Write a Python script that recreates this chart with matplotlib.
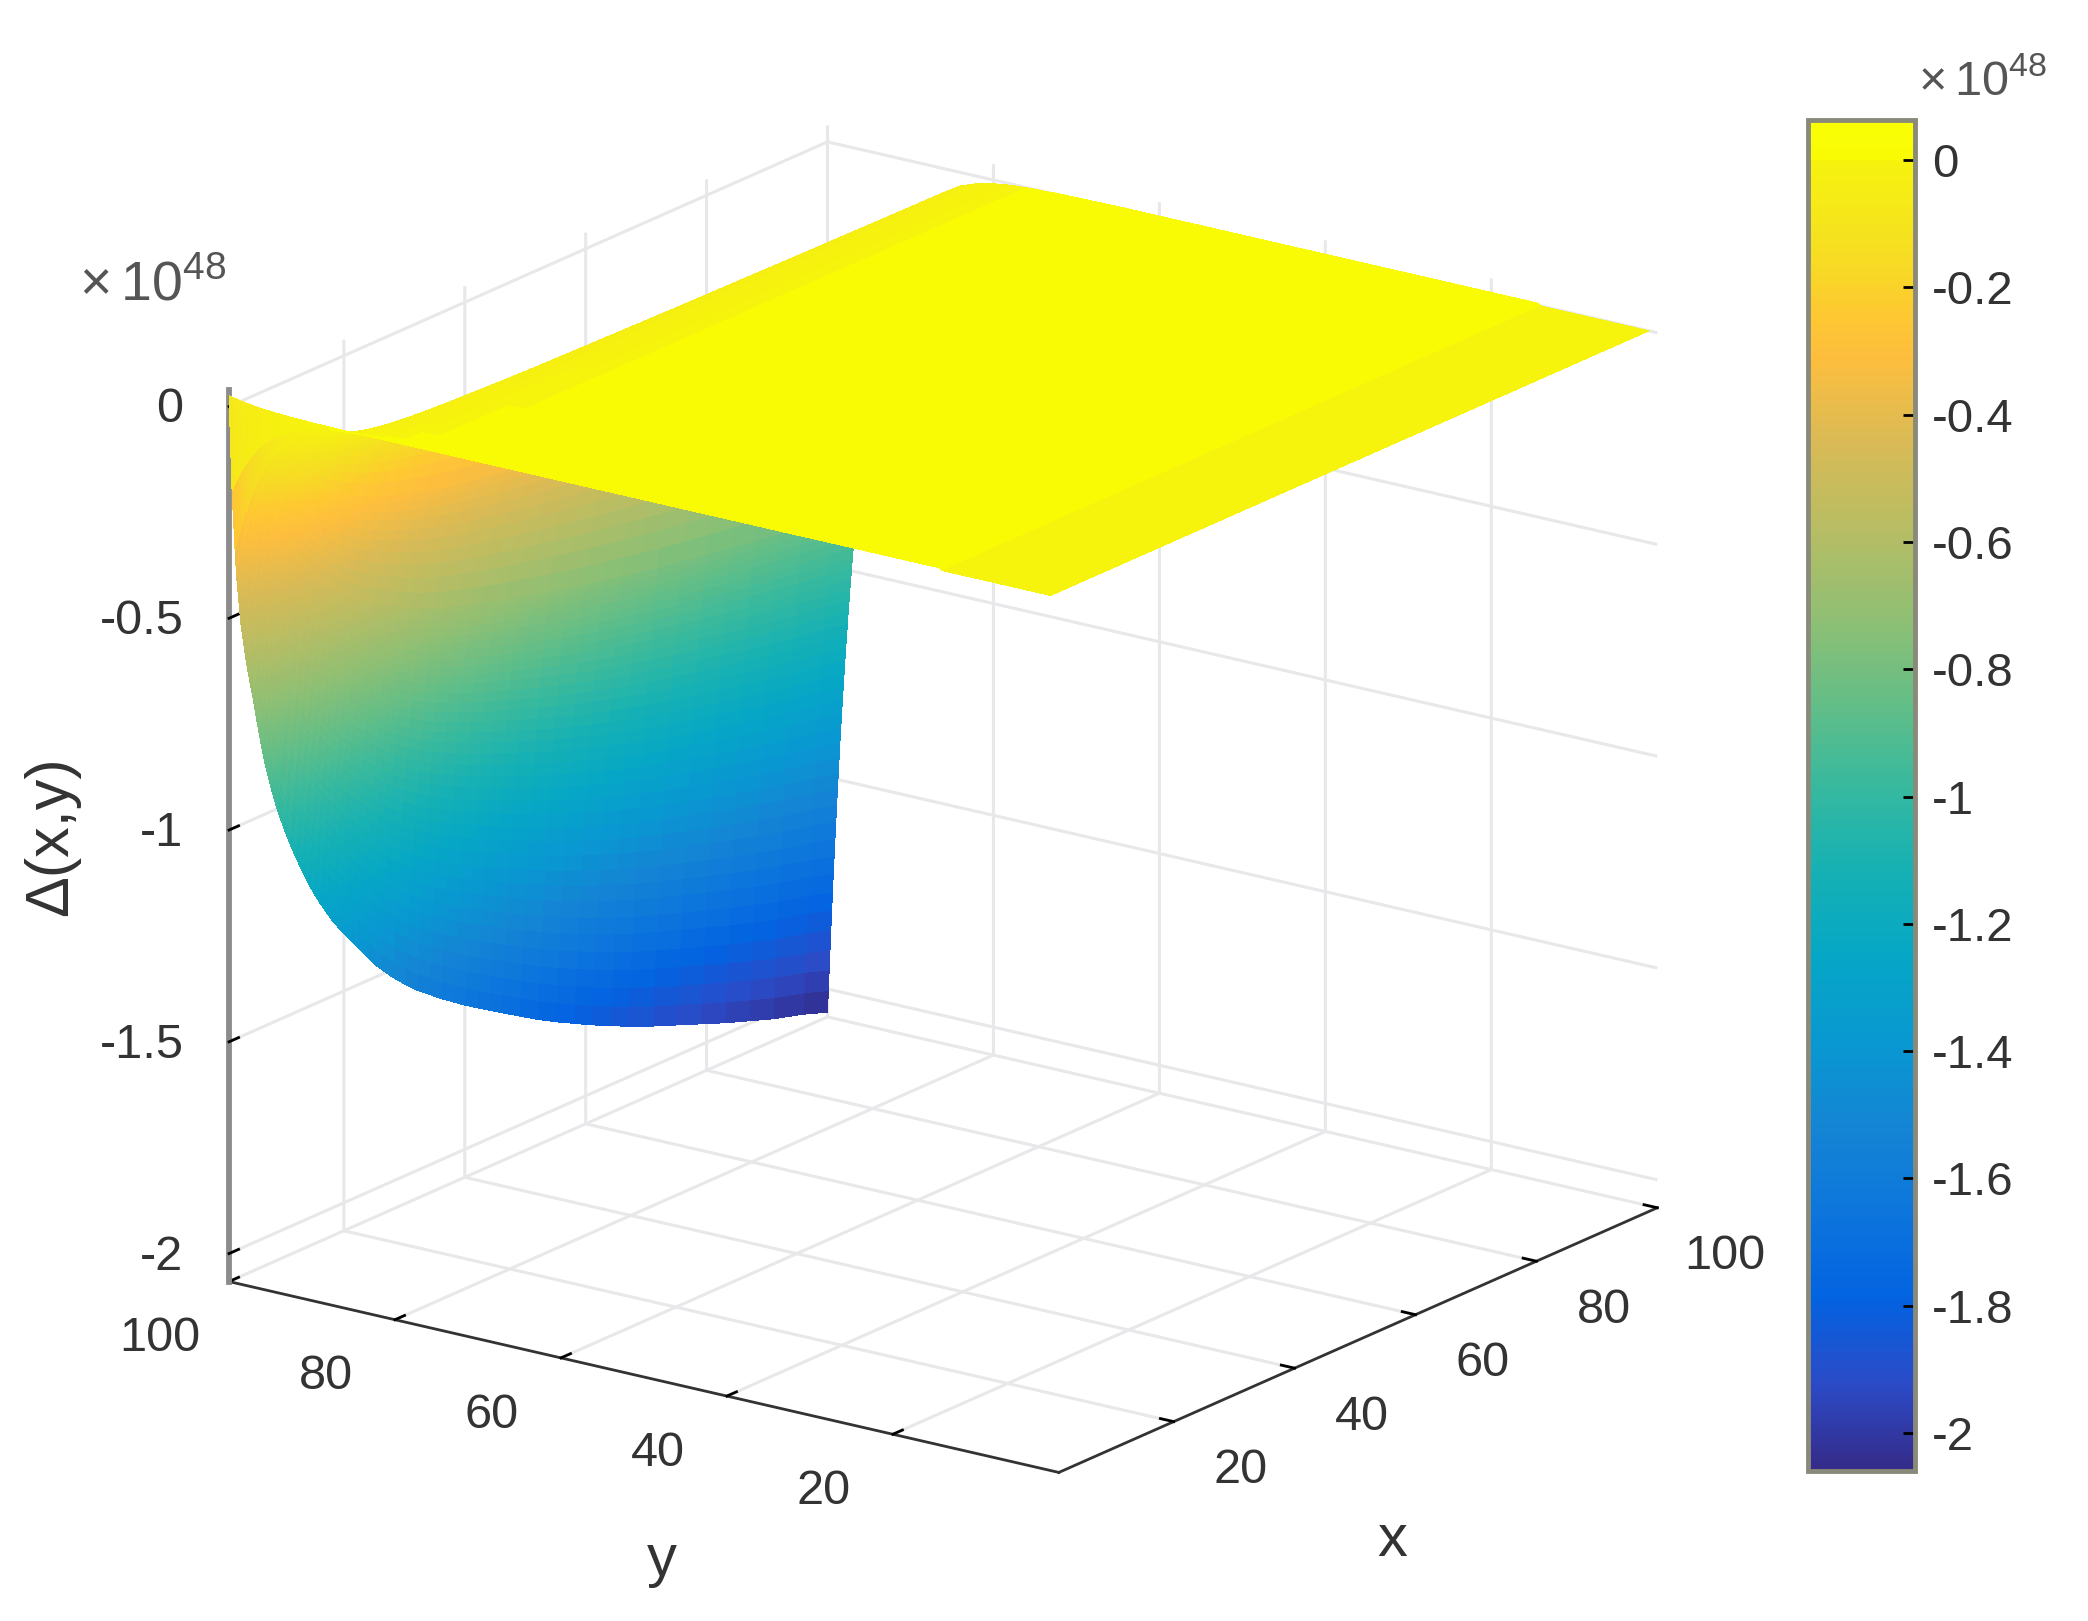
# surface of Delta(x,y) with a parula-like colour bar, values in units of 1e48
import matplotlib
matplotlib.use('Agg')
import matplotlib.pyplot as plt
from matplotlib.colors import LinearSegmentedColormap, Normalize
from matplotlib.cm import ScalarMappable
from mpl_toolkits.mplot3d import proj3d
import numpy as np

plt.rcParams['font.family'] = ['Liberation Sans', 'DejaVu Sans']
plt.rcParams['mathtext.fontset'] = 'custom'
plt.rcParams['mathtext.rm'] = 'Liberation Sans'

# edge of the surface read along y = 100, as share of the deepest value
x_vals = [1, 1.5, 2, 2.25, 2.5, 2.75, 3, 3.5, 4, 4.5, 5, 5.5, 6, 6.5, 7, 7.5, 8, 8.5, 9, 10, 11, 12, 13, 14, 15, 16,
          17, 18, 19, 20, 21, 22, 23, 24, 25, 26, 28, 30, 32, 34, 36, 38, 40, 42, 44, 46, 49, 52, 55, 58, 61, 64,
          67, 71, 75, 79, 83, 87, 91, 96, 100]
x_depth = [-0.01, 0.10, 0.17, 0.20, 0.22, 0.24, 0.26, 0.285, 0.31, 0.33, 0.35, 0.372, 0.393, 0.413, 0.431, 0.447,
           0.462, 0.476, 0.489, 0.512, 0.533, 0.552, 0.57, 0.587, 0.603, 0.617, 0.63, 0.643, 0.654, 0.665, 0.675,
           0.685, 0.695, 0.705, 0.715, 0.723, 0.739, 0.753, 0.766, 0.777, 0.788, 0.798, 0.808, 0.817, 0.826, 0.835,
           0.848, 0.861, 0.873, 0.884, 0.895, 0.905, 0.915, 0.927, 0.938, 0.949, 0.96, 0.97, 0.98, 0.99, 1.0]

# edge of the surface read along x = 100, as share of the deepest value
y_vals = [1, 7, 14, 14.5, 30, 50, 65, 72, 76, 78, 80, 82, 84, 86, 88, 90, 90.5, 91, 91.5, 92, 92.5, 93, 93.5, 94,
          94.25, 94.5, 94.75, 95, 95.25, 95.5, 95.75, 96, 96.25,
          96.5, 96.6, 96.7, 96.8, 96.9, 97, 97.1, 97.2, 97.3, 97.4, 97.5, 97.6, 97.7, 97.8, 97.9, 98, 98.1, 98.2,
          98.3, 98.4, 98.5, 98.6, 98.7, 98.8, 98.9, 99, 99.1, 99.2, 99.3, 99.4, 99.5, 99.6, 99.7, 99.8, 99.9, 100]
y_depth = [0, 0, 0, 0, 0, 0, 0, 0.001, 0.0025, 0.004, 0.0067, 0.011, 0.018, 0.03, 0.05, 0.082, 0.093, 0.105, 0.119,
           0.135, 0.153, 0.174, 0.197, 0.223, 0.237, 0.253, 0.269, 0.287, 0.305, 0.325, 0.346, 0.368, 0.392,
           0.417, 0.427, 0.438, 0.449, 0.461, 0.472, 0.484, 0.497, 0.509,
           0.522, 0.535, 0.549, 0.563, 0.577, 0.592, 0.607, 0.622, 0.638, 0.654, 0.670, 0.687, 0.705, 0.723, 0.741,
           0.760, 0.779, 0.799, 0.819, 0.839, 0.861, 0.882, 0.905, 0.928, 0.951, 0.975, 1.0]
# flat part of the sheet: the front strip sits one colour step lower
y_level = [0] * 3 + [0.005] * (len(y_vals) - 3)
z_deepest = -2.06

x_ticks = [20, 40, 60, 80, 100]
y_ticks = [20, 40, 60, 80, 100]
z_ticks = [-2, -1.5, -1, -0.5, 0]
z_labels = ['-2', '-1.5', '-1', '-0.5', '0']
cbar_ticks = [-2, -1.8, -1.6, -1.4, -1.2, -1, -0.8, -0.6, -0.4, -0.2, 0]
cbar_labels = ['-2', '-1.8', '-1.6', '-1.4', '-1.2', '-1', '-0.8', '-0.6', '-0.4', '-0.2', '0']

# parula stops
parula_pos = [0, 0.063, 0.127, 0.19, 0.254, 0.317, 0.381, 0.444, 0.508, 0.571, 0.635, 0.698, 0.762, 0.825,
              0.857, 0.889, 0.921, 0.95, 0.9703, 0.9727, 1]
parula_rgb = [(0.2081, 0.1663, 0.5292), (0.1707, 0.2919, 0.7792), (0.0117, 0.3875, 0.8820),
              (0.0498, 0.4586, 0.8641), (0.0793, 0.5200, 0.8312), (0.0343, 0.5966, 0.8199),
              (0.0228, 0.6535, 0.7768), (0.0843, 0.6928, 0.7062), (0.2178, 0.7250, 0.6193),
              (0.3953, 0.7459, 0.5244), (0.5709, 0.7485, 0.4494), (0.7184, 0.7411, 0.3905),
              (0.8507, 0.7299, 0.3360), (0.9938, 0.7455, 0.2403), (0.9955, 0.7861, 0.1967),
              (0.9697, 0.8481, 0.1475), (0.9598, 0.8949, 0.1132), (0.965, 0.93, 0.08),
              (0.965, 0.95, 0.05), (0.975, 0.985, 0.02), (0.98, 1.0, 0.02)]
parula = LinearSegmentedColormap.from_list('parula_like', list(zip(parula_pos, parula_rgb)), N=512)

X, Y = np.meshgrid(x_vals, y_vals)
Z = np.array(y_level)[:, None] + z_deepest * np.outer(y_depth, x_depth)
norm = Normalize(vmin=-2.06, vmax=0.063)

fig = plt.figure(figsize=(20.88, 16.21), dpi=100)
ax = fig.add_axes([0.0582, 0.0002, 0.7663, 0.987], projection='3d', proj_type='ortho')
ax.view_init(elev=18.6, azim=-144.2)
ax.set_box_aspect((1, 1, 0.919), zoom=1.047)

ax.plot_surface(X, Y, Z, cmap=parula, norm=norm, rstride=1, cstride=1, linewidth=0,
                antialiased=False, shade=False)

z_low = -2.066
ax.set_xlim(1, 100, view_margin=0)
ax.set_ylim(0, 100, view_margin=0)
ax.set_zlim(z_low, 0.038, view_margin=0)
ax.set_xticks(x_ticks)
ax.set_yticks(y_ticks)
ax.set_zticks(z_ticks)
ax.set_xticklabels([])
ax.set_yticklabels([])
ax.set_zticklabels([])

for axis in (ax.xaxis, ax.yaxis, ax.zaxis):
    axis.set_pane_color((1, 1, 1, 0))
    axis.pane.set_edgecolor('none')
    axis._axinfo['grid'].update(color='#e8e8ea', linewidth=2.2)
    axis._axinfo['tick'].update(inward_factor=0.0, outward_factor=0.2, linewidth={True: 2, False: 1})
ax.xaxis.line.set_color('#333333')
ax.yaxis.line.set_color('#333333')
ax.xaxis.line.set_linewidth(2)
ax.yaxis.line.set_linewidth(2)
ax.zaxis.line.set_color('#8c8c8c')
ax.zaxis.line.set_linewidth(4.2)


# tick labels set by hand, mplot3d cannot offset them the way the original does
def label3d(x, y, z, s, ha):
    px, py, _ = proj3d.proj_transform(x, y, z, ax.get_proj())
    ax.text2D(px, py, s, transform=ax.transData, fontsize=35, color='#333333', ha=ha, va='center')


for v in x_ticks:
    label3d(v, -8.1, z_low - 0.079, str(v), 'center')
for v in y_ticks:
    label3d(-10.4, v, z_low - 0.063, str(v), 'center')
for v, lab in zip(z_ticks, z_labels):
    label3d(-1.6, 103.6, v - 0.008, lab, 'right')

fig.text(0.3170, 0.0375, 'y', fontsize=43, color='#333333', ha='center', va='center')
fig.text(0.6670, 0.0495, 'x', fontsize=43, color='#333333', ha='center', va='center')
fig.text(0.0245, 0.4840, '\u0394(x,y)', fontsize=44, color='#333333', rotation=90, ha='center', va='center')
fig.text(0.0380, 0.8235, r'$\times\,10^{48}$', fontsize=40, color='#555555', ha='left', va='center')

cax = fig.add_axes([0.866, 0.0925, 0.0512, 0.8334])
cbar = fig.colorbar(ScalarMappable(norm=norm, cmap=parula), cax=cax)
cbar.set_ticks(cbar_ticks)
cbar.set_ticklabels(cbar_labels)
cax.tick_params(axis='y', direction='in', length=9, width=2, labelsize=34, labelcolor='#333333', pad=12)
cbar.outline.set_edgecolor('#8a8a7a')
cbar.outline.set_linewidth(3.5)
fig.text(0.9184, 0.9490, r'$\times\,10^{48}$', fontsize=35, color='#555555', ha='left', va='center')

fig.savefig('out.png', dpi=100)
